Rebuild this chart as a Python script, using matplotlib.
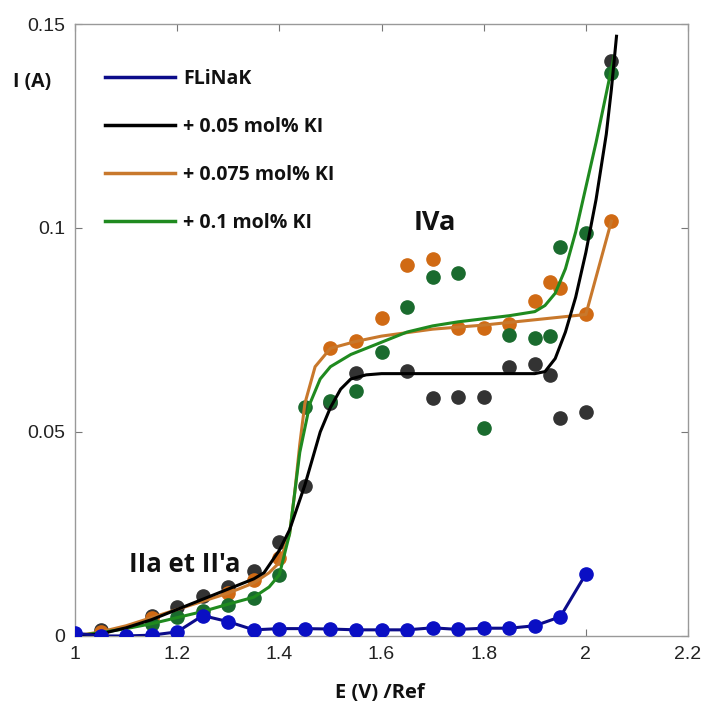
import matplotlib.pyplot as plt
from matplotlib.lines import Line2D

# measured points (E in V, I in A)
e_flinak = [1.00, 1.05, 1.10, 1.15, 1.20, 1.25, 1.30, 1.35, 1.40, 1.45, 1.50, 1.55,
            1.60, 1.65, 1.70, 1.75, 1.80, 1.85, 1.90, 1.95, 2.00]
i_flinak = [0.0007, 0.0, 0.0, 0.0002, 0.001, 0.005, 0.0035, 0.0015, 0.0018, 0.0018, 0.0017, 0.0015,
            0.0015, 0.0015, 0.002, 0.0016, 0.0019, 0.0019, 0.0025, 0.0047, 0.0152]

e_ki005 = [1.00, 1.05, 1.15, 1.20, 1.25, 1.30, 1.35, 1.40, 1.45, 1.50, 1.55, 1.65, 1.70,
           1.75, 1.80, 1.85, 1.90, 1.93, 1.95, 2.00, 2.05]
i_ki005 = [0.0, 0.0015, 0.005, 0.0072, 0.0098, 0.012, 0.016, 0.023, 0.0368, 0.057, 0.0645, 0.065, 0.0583,
           0.0585, 0.0585, 0.066, 0.0667, 0.064, 0.0534, 0.055, 0.141]

e_ki0075 = [1.00, 1.05, 1.15, 1.30, 1.35, 1.40, 1.50, 1.55, 1.60, 1.65, 1.70, 1.75,
            1.80, 1.85, 1.90, 1.93, 1.95, 2.00, 2.05]
i_ki0075 = [0.0, 0.001, 0.0044, 0.0105, 0.0137, 0.019, 0.0705, 0.0723, 0.078, 0.091, 0.0924, 0.0755,
            0.0755, 0.0765, 0.082, 0.0868, 0.0853, 0.079, 0.1017]

e_ki01 = [1.00, 1.15, 1.20, 1.25, 1.30, 1.35, 1.40, 1.45, 1.50, 1.55, 1.60, 1.65, 1.70,
          1.75, 1.80, 1.85, 1.90, 1.93, 1.95, 2.00, 2.05]
i_ki01 = [0.0, 0.003, 0.0047, 0.006, 0.0076, 0.0093, 0.015, 0.056, 0.0576, 0.060, 0.0696, 0.0807, 0.088,
          0.089, 0.051, 0.0738, 0.073, 0.0735, 0.0954, 0.0987, 0.138]

# fitted curves
fit_e_005 = [1.00, 1.05, 1.10, 1.15, 1.20, 1.25, 1.30, 1.35, 1.37, 1.40, 1.42, 1.45, 1.48, 1.50,
             1.52, 1.54, 1.57, 1.60, 1.80, 1.90, 1.92, 1.94, 1.96, 1.98, 2.00, 2.02, 2.04, 2.05, 2.06]
fit_i_005 = [0.0, 0.0005, 0.002, 0.004, 0.0065, 0.009, 0.0115, 0.014, 0.0155, 0.021, 0.026, 0.037,
             0.050, 0.056, 0.0605, 0.063, 0.064, 0.0643, 0.0643, 0.0643, 0.0648, 0.068, 0.0745,
             0.083, 0.094, 0.107, 0.123, 0.134, 0.147]

fit_e_0075 = [1.00, 1.05, 1.10, 1.15, 1.20, 1.25, 1.30, 1.35, 1.38, 1.40, 1.42, 1.43, 1.44, 1.45,
              1.47, 1.50, 1.55, 1.60, 1.70, 1.80, 1.90, 2.00, 2.05]
fit_i_0075 = [0.0, 0.001, 0.0025, 0.0045, 0.0065, 0.0085, 0.0105, 0.013, 0.0155, 0.018, 0.025,
              0.035, 0.047, 0.057, 0.066, 0.0705, 0.0722, 0.0735, 0.0752, 0.0762, 0.0775, 0.0788, 0.1017]

fit_e_01 = [1.00, 1.05, 1.10, 1.15, 1.20, 1.25, 1.30, 1.35, 1.38, 1.40, 1.42, 1.44, 1.46, 1.48,
            1.50, 1.54, 1.60, 1.65, 1.70, 1.75, 1.85, 1.90, 1.92, 1.94, 1.96, 1.98, 2.00, 2.02,
            2.04, 2.055]
fit_i_01 = [0.0, 0.0008, 0.0018, 0.003, 0.0045, 0.006, 0.0078, 0.0095, 0.012, 0.015, 0.025, 0.045,
            0.057, 0.063, 0.066, 0.069, 0.072, 0.0745, 0.076, 0.077, 0.0785, 0.0795, 0.081, 0.084,
            0.090, 0.099, 0.110, 0.121, 0.133, 0.142]

labels = ["FLiNaK", "+ 0.05 mol% KI", "+ 0.075 mol% KI", "+ 0.1 mol% KI"]

c_blue_line = "#0c0c8a"
c_blue_dot = "#0a0fc4"
c_black_dot = "#333333"
c_orange_line = "#c8782c"
c_orange_dot = "#d06a14"
c_green_line = "#1f8a1f"
c_green_dot = "#1a6b2e"

bold = dict(family="Open Sans", fontweight="bold")

fig = plt.figure(figsize=(7.03, 7.06), dpi=100)
ax = fig.add_axes([0.1067, 0.0992, 0.872, 0.8668])

ax.plot(e_ki005, i_ki005, "o", ms=9.5, color=c_black_dot, zorder=2)
ax.plot(e_ki0075, i_ki0075, "o", ms=9.5, color=c_orange_dot, zorder=2)
ax.plot(e_ki01, i_ki01, "o", ms=9.5, color=c_green_dot, zorder=2)

ax.plot(fit_e_0075, fit_i_0075, "-", lw=2.2, color=c_orange_line, zorder=3)
ax.plot(fit_e_01, fit_i_01, "-", lw=2.2, color=c_green_line, zorder=3)
ax.plot(fit_e_005, fit_i_005, "-", lw=2.2, color="black", zorder=4)

ax.plot(e_flinak, i_flinak, "-o", lw=2.2, ms=9.5, color=c_blue_line,
        markerfacecolor=c_blue_dot, markeredgecolor=c_blue_dot, zorder=5)

ax.set_xlim(1, 2.2)
ax.set_ylim(0, 0.15)
ax.set_xticks([1, 1.2, 1.4, 1.6, 1.8, 2, 2.2])
ax.set_xticklabels(["1", "1.2", "1.4", "1.6", "1.8", "2", "2.2"])
ax.set_yticks([0, 0.05, 0.1, 0.15])
ax.set_yticklabels(["0", "0.05", "0.1", "0.15"])
ax.tick_params(direction="in", top=True, right=True, length=5, width=0.8,
               color="#777777", labelsize=14, labelcolor="#222222", pad=7)
for lab in ax.get_xticklabels() + ax.get_yticklabels():
    lab.set_family("Liberation Sans")
for s in ax.spines.values():
    s.set_color("#999999")
    s.set_linewidth(1.0)

ax.text(-0.07, 0.905, "I (A)", transform=ax.transAxes, ha="center", va="center",
        fontsize=14, color="#111111", **bold)
ax.text(0.4976, -0.093, "E (V) /Ref", transform=ax.transAxes, ha="center", va="center",
        fontsize=14.5, color="#111111", **bold)

ax.text(1.705, 0.1012, "IVa", ha="center", va="center", fontsize=19.5, color="#111111", **bold)
ax.text(1.215, 0.0174, "IIa et II'a", ha="center", va="center", fontsize=18.5, color="#111111", **bold)

handles = [Line2D([], [], color=c, lw=2.5)
           for c in [c_blue_line, "black", c_orange_line, c_green_line]]
leg = ax.legend(handles, labels, loc="upper left", bbox_to_anchor=(0.049, 0.927),
                frameon=False, borderpad=0, borderaxespad=0, handlelength=3.6,
                handletextpad=0.4, labelspacing=1.45,
                prop={"family": "Open Sans", "weight": "bold", "size": 14})
for t in leg.get_texts():
    t.set_color("#111111")

fig.savefig("out.png", dpi=100)
